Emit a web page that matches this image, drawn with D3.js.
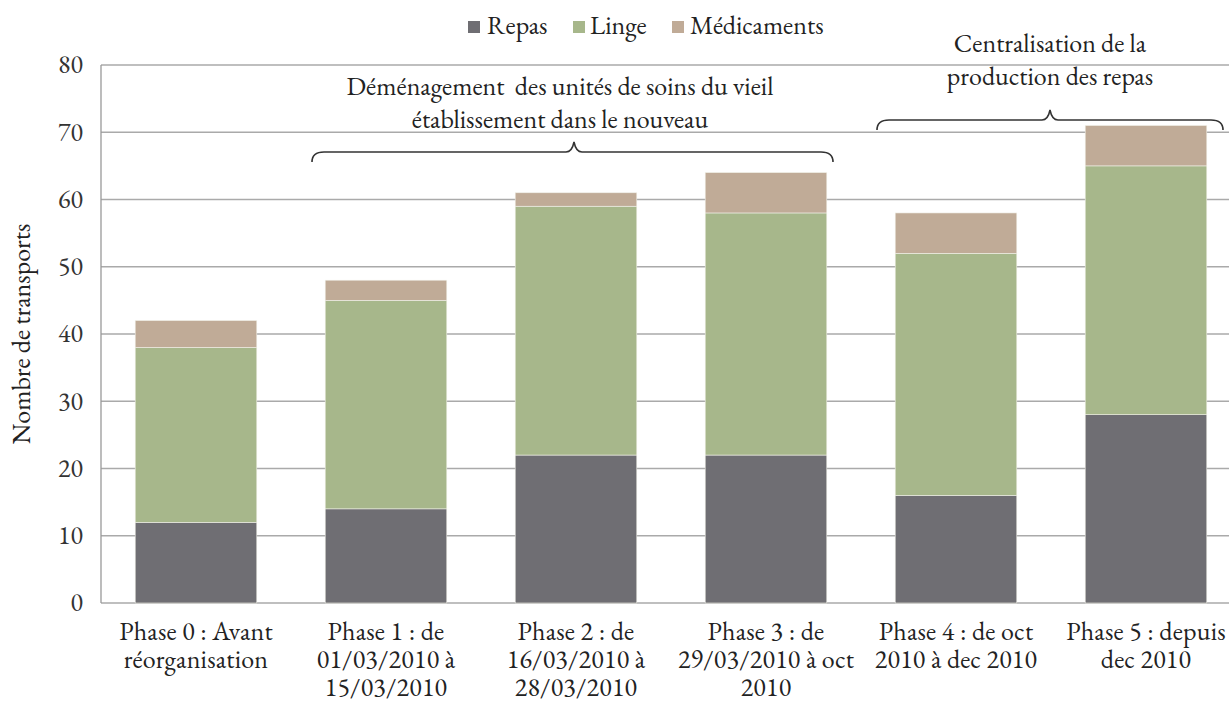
<!DOCTYPE html>
<html><head><meta charset="utf-8">
<script src="https://cdn.jsdelivr.net/npm/d3@7"></script>
<style>body{margin:0;background:#fff}svg{display:block}</style>
</head><body><svg id="c" width="1229" height="702"></svg>
<script>
const categories = [
  ["Phase 0 : Avant","réorganisation"],
  ["Phase 1 : de","01/03/2010 à","15/03/2010"],
  ["Phase 2 : de","16/03/2010 à","28/03/2010"],
  ["Phase 3 : de","29/03/2010 à oct","2010"],
  ["Phase 4 : de oct","2010 à dec 2010"],
  ["Phase 5 : depuis","dec 2010"]
];
const seriesNames = ["Repas","Linge","Médicaments"];
const repas = [12,14,22,22,16,28];
const linge = [26,31,37,36,36,37];
const medicaments = [4,3,2,6,6,6];
const yTicks = [0,10,20,30,40,50,60,70,80];
const colors = ["#6f6e73","#a7b78b","#c0ab97"];

const FONT = '"EB Garamond","Liberation Serif",serif';
const FS = 26;
const svg = d3.select("#c").style("font-family",FONT);
const x = d3.scaleBand().domain(d3.range(categories.length)).range([101,1241]).paddingInner(0.36).paddingOuter(0.18);
const y = d3.scaleLinear().domain([0,80]).range([603,65]);

svg.append("g").selectAll("line").data(yTicks).join("line")
  .attr("x1",101).attr("x2",1229).attr("y1",d=>y(d)).attr("y2",d=>y(d))
  .attr("stroke","#aaaaaa").attr("stroke-width",1.3);
svg.append("line").attr("x1",101).attr("x2",101).attr("y1",y(80)).attr("y2",y(0)).attr("stroke","#999").attr("stroke-width",1.3);

const yAxis = d3.axisLeft(y).tickValues(yTicks).tickSize(0).tickPadding(0);
const ga = svg.append("g").attr("transform","translate(83,0)").call(yAxis);
ga.attr("font-family",null);
ga.select(".domain").remove();
ga.selectAll("text").attr("font-size",FS).style("font-family",FONT).attr("fill","#333").attr("dy","0.3em");

svg.append("text").attr("transform","translate(30,334) rotate(-90)").attr("text-anchor","middle")
  .style("font-family",FONT).attr("font-size",FS).attr("fill","#222").text("Nombre de transports");

const data = categories.map((c,i)=>({i, Repas:repas[i], Linge:linge[i], "Médicaments":medicaments[i]}));
const stack = d3.stack().keys(seriesNames)(data);
svg.append("g").selectAll("g").data(stack).join("g").attr("fill",(d,i)=>colors[i])
  .selectAll("rect").data(d=>d).join("rect")
  .attr("x",d=>x(d.data.i)).attr("width",x.bandwidth())
  .attr("y",d=>y(d[1])).attr("height",d=>y(d[0])-y(d[1]))
  .attr("stroke","#f0f0e8").attr("stroke-width",0.6);

const xl = svg.append("g").selectAll("text").data(categories).join("text")
  .attr("text-anchor","middle").attr("font-size",FS).style("font-family",FONT).attr("fill","#222")
  .style("letter-spacing","0.2px")
  .attr("x",(d,i)=>x(i)+x.bandwidth()/2).attr("y",640);
xl.selectAll("tspan").data(d=>d).join("tspan")
  .attr("x",function(){return this.parentNode.getAttribute("x");})
  .attr("dy",(d,j)=>j===0?0:28).text(d=>d);

const leg = [[468,487],[573,590],[672,690]];
seriesNames.forEach((n,i)=>{
  svg.append("rect").attr("x",leg[i][0]).attr("y",21).attr("width",12).attr("height",12).attr("fill",colors[i]);
  svg.append("text").attr("x",leg[i][1]).attr("y",34).attr("font-size",FS).style("font-family",FONT).attr("fill","#222").text(n);
});

function brace(x1,x2,yb,xm){
  const h=10, r=8;
  const p = `M${x1},${yb+h} Q${x1},${yb} ${x1+r*1.5},${yb} L${xm-8},${yb} Q${xm-2},${yb} ${xm},${yb-h} Q${xm+2},${yb} ${xm+8},${yb} L${x2-r*1.5},${yb} Q${x2},${yb} ${x2},${yb+h}`;
  svg.append("path").attr("d",p).attr("fill","none").attr("stroke","#333").attr("stroke-width",1.6);
}
brace(312,833,152,574);
brace(877,1223,120,1050);

function ann(lines,cx,y0){
  const t=svg.append("text").attr("text-anchor","middle").attr("font-size",FS).style("font-family",FONT).attr("fill","#222").style("white-space","pre");
  lines.forEach((l,j)=>t.append("tspan").attr("x",cx).attr("y",y0+j*33).text(l));
}
ann(["Déménagement  des unités de soins du vieil","établissement dans le nouveau"],560,95);
ann(["Centralisation de la","production des repas"],1050,52);
</script></body></html>
